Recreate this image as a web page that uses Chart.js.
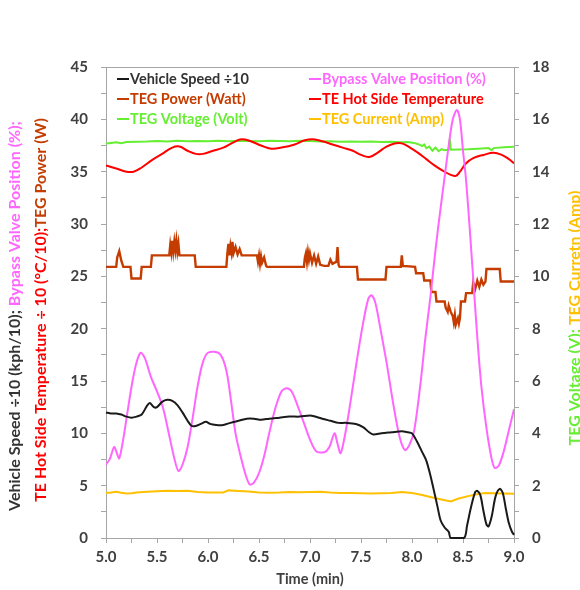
<!DOCTYPE html>
<html>
<head>
<meta charset="utf-8">
<script src="https://cdn.jsdelivr.net/npm/chart.js@4"></script>
<style>
  html, body { margin: 0; padding: 0; background: #fff; }
  #wrap { width: 580px; height: 590px; }
</style>
</head>
<body>
<div id="wrap"><canvas id="tegChart" width="580" height="590"></canvas></div>
<script>
// [time (min), value] pairs
const speedData = [[5.00,12.0],[5.05,11.9],[5.10,11.9],[5.15,11.8],[5.20,11.6],[5.25,11.5],[5.30,11.6],[5.35,11.8],[5.40,12.6],[5.43,12.9],[5.47,12.5],[5.50,12.5],[5.55,13.0],[5.60,13.2],[5.65,13.1],[5.70,12.7],[5.75,12.0],[5.80,11.2],[5.84,10.7],[5.88,10.7],[5.93,10.9],[5.98,11.1],[6.02,10.9],[6.08,10.8],[6.15,10.8],[6.22,11.0],[6.30,11.2],[6.38,11.4],[6.45,11.4],[6.52,11.3],[6.60,11.4],[6.70,11.5],[6.80,11.6],[6.90,11.6],[7.00,11.7],[7.05,11.6],[7.12,11.4],[7.20,11.2],[7.28,11.0],[7.35,11.0],[7.45,10.9],[7.52,10.6],[7.58,10.1],[7.62,9.9],[7.70,10.0],[7.80,10.1],[7.90,10.2],[7.96,10.1],[8.00,10.0],[8.05,9.2],[8.10,8.2],[8.14,7.4],[8.18,6.0],[8.22,4.3],[8.25,3.0],[8.28,1.7],[8.32,1.0],[8.36,0.6],[8.38,0.0],[8.51,0.0],[8.54,1.2],[8.58,3.0],[8.62,4.4],[8.64,4.5],[8.67,4.1],[8.70,2.6],[8.73,1.3],[8.75,1.1],[8.78,2.0],[8.82,4.0],[8.86,4.7],[8.89,4.3],[8.92,2.8],[8.95,1.4],[8.98,0.6],[9.00,0.3]];

const bypassData = [[5.00,7.0],[5.04,7.6],[5.08,8.7],[5.11,8.0],[5.13,7.6],[5.17,9.5],[5.21,12.0],[5.26,15.0],[5.30,16.8],[5.34,17.7],[5.38,17.2],[5.44,15.4],[5.50,14.0],[5.56,12.4],[5.62,9.8],[5.67,7.6],[5.71,6.4],[5.75,7.0],[5.80,8.7],[5.85,11.5],[5.90,14.6],[5.95,16.8],[6.00,17.7],[6.10,17.7],[6.15,17.0],[6.19,15.5],[6.23,12.8],[6.27,10.0],[6.32,7.8],[6.37,6.0],[6.41,5.1],[6.45,5.3],[6.50,6.2],[6.55,7.8],[6.60,10.0],[6.66,12.4],[6.72,14.0],[6.77,14.3],[6.82,14.0],[6.88,12.6],[6.94,11.0],[7.00,9.4],[7.06,8.3],[7.14,8.2],[7.19,8.7],[7.24,10.0],[7.27,9.0],[7.30,8.1],[7.35,10.2],[7.40,13.2],[7.46,17.0],[7.52,20.5],[7.57,22.8],[7.60,23.2],[7.64,22.5],[7.69,20.0],[7.75,16.8],[7.82,12.6],[7.88,9.6],[7.93,8.4],[7.97,8.8],[8.02,10.2],[8.08,14.5],[8.13,19.0],[8.18,23.0],[8.23,27.5],[8.28,31.5],[8.32,34.5],[8.36,37.5],[8.40,40.0],[8.44,40.9],[8.47,40.0],[8.50,37.0],[8.53,34.2],[8.57,29.0],[8.61,23.4],[8.64,19.2],[8.68,14.5],[8.73,10.5],[8.78,7.6],[8.81,6.7],[8.85,6.9],[8.90,8.3],[8.95,10.3],[9.00,12.3]];

const powerData = [[5.00,25.9],[5.10,25.9],[5.11,26.8],[5.13,27.4],[5.15,26.5],[5.17,25.9],[5.24,25.9],[5.25,24.8],[5.34,24.8],[5.35,25.9],[5.44,25.9],[5.45,27.0],[5.62,27.0],[5.63,28.0],[5.64,27.3],[5.65,28.4],[5.66,27.4],[5.67,28.3],[5.68,27.5],[5.69,28.4],[5.70,27.4],[5.71,28.1],[5.72,27.0],[5.87,27.0],[5.88,25.9],[6.18,25.9],[6.19,27.2],[6.20,28.1],[6.21,27.0],[6.22,27.9],[6.23,27.3],[6.24,28.3],[6.25,27.2],[6.27,27.8],[6.29,27.1],[6.31,27.6],[6.33,27.0],[6.48,27.0],[6.49,26.4],[6.50,27.0],[6.51,26.2],[6.52,26.9],[6.53,26.3],[6.55,26.8],[6.57,26.0],[6.58,25.9],[6.94,25.9],[6.95,26.8],[6.96,27.2],[6.97,26.4],[6.98,27.3],[6.99,26.6],[7.00,27.2],[7.02,26.3],[7.04,27.0],[7.06,26.2],[7.08,26.9],[7.10,26.1],[7.14,26.0],[7.18,26.0],[7.20,26.6],[7.22,26.2],[7.26,26.4],[7.27,27.8],[7.28,26.1],[7.29,25.9],[7.46,25.9],[7.47,24.7],[7.74,24.7],[7.75,25.9],[7.89,25.9],[7.90,27.0],[7.91,26.0],[8.03,25.9],[8.04,25.3],[8.11,25.3],[8.12,24.6],[8.18,24.6],[8.19,23.5],[8.23,23.5],[8.24,22.6],[8.32,22.6],[8.33,22.0],[8.35,21.6],[8.36,22.2],[8.38,21.6],[8.40,21.2],[8.41,20.6],[8.42,21.3],[8.43,20.4],[8.45,21.0],[8.46,20.5],[8.47,21.0],[8.48,22.6],[8.52,22.6],[8.53,23.4],[8.59,23.4],[8.60,24.4],[8.62,23.8],[8.64,24.6],[8.66,24.0],[8.68,24.7],[8.70,24.2],[8.72,24.5],[8.73,25.7],[8.86,25.7],[8.87,24.5],[9.00,24.5]];

const hotSideData = [[5.00,35.6],[5.10,35.3],[5.20,35.0],[5.27,35.0],[5.35,35.4],[5.45,36.1],[5.55,36.7],[5.65,37.3],[5.72,37.4],[5.80,37.0],[5.88,36.7],[5.95,36.7],[6.05,37.0],[6.15,37.3],[6.25,37.8],[6.33,38.1],[6.42,37.9],[6.52,37.5],[6.62,37.2],[6.72,37.3],[6.85,37.6],[6.95,38.0],[7.03,38.1],[7.12,37.9],[7.22,37.6],[7.32,37.3],[7.42,37.0],[7.50,36.6],[7.58,36.4],[7.66,36.8],[7.75,37.4],[7.83,37.7],[7.90,37.7],[7.98,37.3],[8.06,36.8],[8.14,36.2],[8.22,35.6],[8.30,35.1],[8.38,34.7],[8.43,34.6],[8.47,35.0],[8.53,35.8],[8.60,36.3],[8.70,36.6],[8.80,36.8],[8.88,36.6],[8.95,36.2],[9.00,35.8]];

// right axis (V, A)
const voltageData = [[5.00,15.08],[5.05,15.10],[5.10,15.12],[5.15,15.09],[5.20,15.13],[5.30,15.14],[5.40,15.15],[5.50,15.17],[5.60,15.15],[5.70,15.18],[5.80,15.16],[5.90,15.17],[6.00,15.16],[6.10,15.18],[6.20,15.16],[6.30,15.18],[6.40,15.17],[6.50,15.16],[6.60,15.18],[6.70,15.17],[6.80,15.16],[6.90,15.18],[7.00,15.17],[7.10,15.15],[7.20,15.16],[7.30,15.14],[7.40,15.15],[7.50,15.14],[7.60,15.15],[7.70,15.13],[7.80,15.14],[7.90,15.12],[7.96,15.13],[8.02,15.10],[8.06,15.05],[8.10,14.98],[8.12,15.04],[8.14,14.90],[8.17,14.96],[8.20,14.80],[8.23,14.92],[8.26,14.78],[8.29,14.86],[8.32,14.82],[8.36,14.84],[8.37,15.25],[8.38,14.84],[8.45,14.85],[8.55,14.86],[8.65,14.88],[8.75,14.90],[8.78,14.82],[8.80,14.90],[8.90,14.93],[9.00,14.95]];

const currentData = [[5.00,1.72],[5.05,1.74],[5.10,1.77],[5.15,1.73],[5.20,1.70],[5.25,1.71],[5.30,1.74],[5.40,1.77],[5.50,1.79],[5.60,1.81],[5.70,1.80],[5.80,1.81],[5.90,1.76],[6.00,1.74],[6.10,1.74],[6.15,1.74],[6.20,1.82],[6.30,1.80],[6.40,1.78],[6.50,1.74],[6.60,1.73],[6.70,1.74],[6.80,1.76],[6.90,1.75],[7.00,1.76],[7.10,1.77],[7.20,1.74],[7.30,1.72],[7.40,1.72],[7.50,1.71],[7.60,1.70],[7.70,1.71],[7.80,1.72],[7.90,1.76],[8.00,1.72],[8.10,1.64],[8.22,1.53],[8.30,1.46],[8.38,1.40],[8.45,1.50],[8.55,1.60],[8.65,1.68],[8.72,1.72],[8.80,1.71],[9.00,1.69]];

const timeTicks = [5.0, 5.5, 6.0, 6.5, 7.0, 7.5, 8.0, 8.5, 9.0];
const leftTicks = [0, 5, 10, 15, 20, 25, 30, 35, 40, 45];
const rightTicks = [0, 2, 4, 6, 8, 10, 12, 14, 16, 18];

const FONT = '"Lato", "Open Sans", sans-serif';
const AXIS_GREY = '#a6a6a6';
const TEXT_GREY = '#404040';

function toPoints(pairs) {
    return pairs.map(p => ({ x: p[0], y: p[1] }));
}

// rotated multi-colour axis title
function drawRotatedTitle(ctx, x, cy, parts, size) {
    ctx.save();
    ctx.font = `bold ${size}px ${FONT}`;
    const total = parts.reduce((s, p) => s + ctx.measureText(p[0]).width, 0);
    ctx.translate(x, cy);
    ctx.rotate(-Math.PI / 2);
    ctx.textAlign = 'left';
    ctx.textBaseline = 'middle';
    let pos = -total / 2;
    parts.forEach(([text, color]) => {
        ctx.fillStyle = color;
        ctx.fillText(text, pos, 0);
        pos += ctx.measureText(text).width;
    });
    ctx.restore();
}

const decorPlugin = {
    id: 'decor',
    beforeDatasetsDraw(chart) {
        const ctx = chart.ctx;
        const area = chart.chartArea;
        // top frame line
        ctx.save();
        ctx.strokeStyle = AXIS_GREY;
        ctx.lineWidth = 1;
        ctx.beginPath();
        ctx.moveTo(area.left, area.top + 0.5);
        ctx.lineTo(area.right, area.top + 0.5);
        ctx.stroke();

        // legend inside the plot, two columns
        ctx.font = `bold 14.5px ${FONT}`;
        ctx.textBaseline = 'middle';
        ctx.textAlign = 'left';
        chart.data.datasets.forEach((ds, i) => {
            const col = i % 2;
            const row = Math.floor(i / 2);
            const x = col ? 309 : 117;
            const y = 79 + row * 20;
            ctx.strokeStyle = ds.borderColor;
            ctx.lineWidth = 2;
            ctx.beginPath();
            ctx.moveTo(x, y);
            ctx.lineTo(x + 12, y);
            ctx.stroke();
            ctx.fillStyle = ds.legendColor || ds.borderColor;
            ctx.fillText(ds.label, x + 13, y);
        });
        ctx.restore();

        drawRotatedTitle(ctx, 15, 316, [
            ['Vehicle Speed \u00f710 (kph/10); ', '#333333'],
            ['Bypass Valve Position (%);', '#ff66ff']
        ], 16);
        drawRotatedTitle(ctx, 41, 310, [
            ['TE Hot Side Temperature \u00f7 10 (\u00b0C/10);', '#ff0000'],
            ['TEG Power (W)', '#c43c00']
        ], 16);
        drawRotatedTitle(ctx, 575, 318, [
            ['TEG Voltage (V); ', '#66ee33'],
            ['TEG Curretn (Amp)', '#ffc000']
        ], 16);
    }
};

const tickFont = { family: FONT, size: 15, weight: 'bold' };

const ctx = document.getElementById('tegChart').getContext('2d');
new Chart(ctx, {
    type: 'line',
    data: {
        datasets: [
            {
                label: 'Vehicle Speed \u00f710',
                data: toPoints(speedData),
                borderColor: '#1a1a1a',
                legendColor: '#333333',
                borderWidth: 2,
                tension: 0.3,
                clip: 3,
                yAxisID: 'y'
            },
            {
                label: 'Bypass Valve Position (%)',
                data: toPoints(bypassData),
                borderColor: '#ff66ff',
                borderWidth: 2,
                tension: 0.3,
                yAxisID: 'y'
            },
            {
                label: 'TEG Power (Watt)',
                data: toPoints(powerData),
                borderColor: '#c43c00',
                borderWidth: 2.4,
                tension: 0,
                yAxisID: 'y'
            },
            {
                label: 'TE Hot Side Temperature',
                data: toPoints(hotSideData),
                borderColor: '#ff0000',
                borderWidth: 2,
                tension: 0.4,
                yAxisID: 'y'
            },
            {
                label: 'TEG Voltage (Volt)',
                data: toPoints(voltageData),
                borderColor: '#66ee33',
                borderWidth: 2,
                tension: 0,
                yAxisID: 'y2'
            },
            {
                label: 'TEG Current (Amp)',
                data: toPoints(currentData),
                borderColor: '#ffc000',
                borderWidth: 2,
                tension: 0,
                yAxisID: 'y2'
            }
        ]
    },
    options: {
        responsive: false,
        animation: false,
        layout: { padding: { top: 67, left: 0, right: 0, bottom: 0 } },
        elements: { point: { radius: 0 } },
        plugins: {
            legend: { display: false },
            tooltip: { enabled: false }
        },
        scales: {
            x: {
                type: 'linear',
                min: 5,
                max: 9,
                afterFit: (scale) => { scale.height = 52; },
                border: { color: AXIS_GREY, width: 1 },
                grid: { drawOnChartArea: false, color: AXIS_GREY, tickLength: 5 },
                ticks: {
                    stepSize: 0.25,
                    autoSkip: false,
                    maxRotation: 0,
                    padding: 5,
                    color: TEXT_GREY,
                    font: tickFont,
                    callback: (v) => timeTicks.includes(v) ? v.toFixed(1) : ''
                },
                title: {
                    display: true,
                    text: 'Time (min)',
                    color: TEXT_GREY,
                    font: { family: FONT, size: 14.5, weight: 'bold' },
                    padding: { top: 0, bottom: 2 }
                }
            },
            y: {
                position: 'left',
                min: 0,
                max: 45,
                afterFit: (scale) => { scale.width = 106; },
                border: { color: AXIS_GREY, width: 1 },
                grid: { drawOnChartArea: false, color: AXIS_GREY, tickLength: 5 },
                ticks: {
                    stepSize: 2.5,
                    autoSkip: false,
                    padding: 13,
                    color: TEXT_GREY,
                    font: tickFont,
                    callback: (v) => leftTicks.includes(v) ? String(v) : ''
                }
            },
            y2: {
                position: 'right',
                min: 0,
                max: 18,
                afterFit: (scale) => { scale.width = 66; },
                border: { color: AXIS_GREY, width: 1 },
                grid: { drawOnChartArea: false, color: AXIS_GREY, tickLength: 5 },
                ticks: {
                    stepSize: 1,
                    autoSkip: false,
                    padding: 13,
                    color: TEXT_GREY,
                    font: tickFont,
                    callback: (v) => rightTicks.includes(v) ? String(v) : ''
                }
            }
        }
    },
    plugins: [decorPlugin]
});
</script>
</body>
</html>
